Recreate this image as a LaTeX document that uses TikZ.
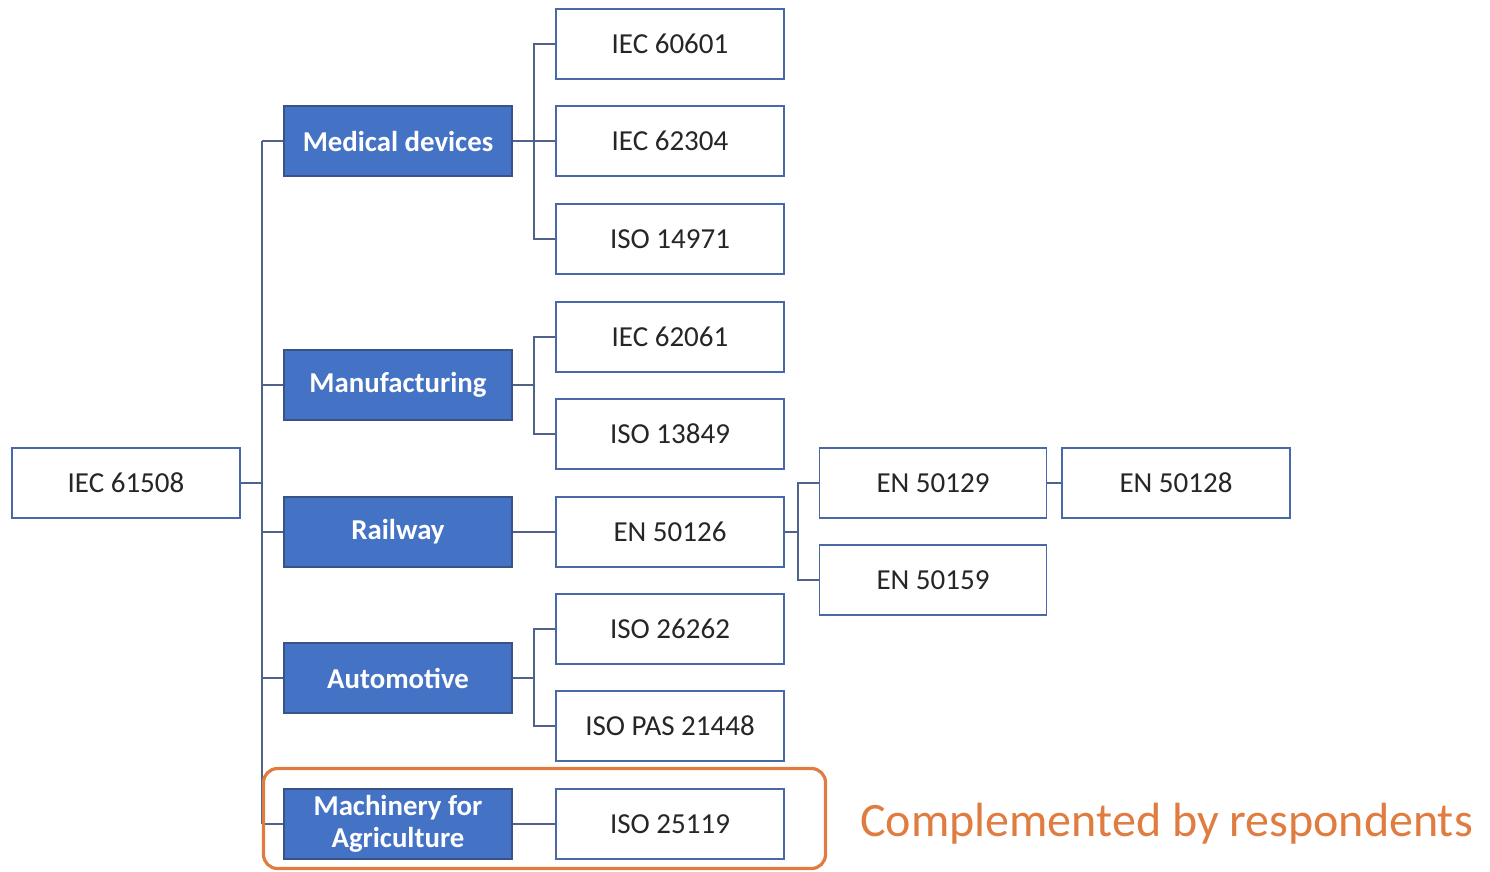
\documentclass[tikz,border=0pt]{standalone}
\usepackage{fontspec}
\setmainfont{Carlito}
\definecolor{boxblue}{RGB}{68,114,196}
\definecolor{edgeblue}{RGB}{72,104,168}
\definecolor{linkblue}{RGB}{78,98,140}
\definecolor{accent}{RGB}{224,124,64}
\begin{document}
\begin{tikzpicture}[x=1pt,y=-1pt,
  stdbox/.style={draw=edgeblue,line width=1.6pt,fill=white,minimum width=228pt,minimum height=70pt,inner sep=0pt,font=\fontsize{29}{31}\selectfont,text=black!85},
  catbox/.style={draw=edgeblue!80!black,line width=1.2pt,fill=boxblue,minimum width=228pt,minimum height=70pt,inner sep=0pt,font=\fontsize{28.8}{31}\selectfont\bfseries,text=white,align=center},
  link/.style={draw=linkblue,line width=1.6pt}]
\useasboundingbox (0,0) rectangle (1490,871);
% root and categories
\node[stdbox] (root) at (126,483) {IEC 61508};
\node[catbox] (med) at (398,141) {Medical devices};
\node[catbox] (man) at (398,385) {Manufacturing};
\node[catbox] (rail) at (398,532) {Railway};
\node[catbox] (auto) at (398,678) {Automotive};
\node[catbox,font=\fontsize{28.8}{32}\selectfont\bfseries] (agri) at (398,824) {Machinery for\\Agriculture};
% standards
\node[stdbox] (s60601) at (670,44) {IEC 60601};
\node[stdbox] (s62304) at (670,141) {IEC 62304};
\node[stdbox] (s14971) at (670,239) {ISO 14971};
\node[stdbox] (s62061) at (670,337) {IEC 62061};
\node[stdbox] (s13849) at (670,434) {ISO 13849};
\node[stdbox] (s50126) at (670,532) {EN 50126};
\node[stdbox] (s26262) at (670,629) {ISO 26262};
\node[stdbox] (s21448) at (670,726) {ISO PAS 21448};
\node[stdbox] (s25119) at (670,824) {ISO 25119};
\node[stdbox,minimum width=227pt] (s50129) at (933,483) {EN 50129};
\node[stdbox,minimum width=227pt] (s50159) at (933,580) {EN 50159};
\node[stdbox] (s50128) at (1176,483) {EN 50128};
% root to categories
\draw[link] (root.east) -- (262,483);
\draw[link] (262,141) -- (262,824);
\foreach \n in {med,man,rail,auto,agri} \draw[link] (262,0 |- \n.west) -- (\n.west);
% medical devices
\draw[link] (med.east) -- (534,141);
\draw[link] (s60601.west) -| (534,141) |- (s14971.west);
\draw[link] (534,141) -- (s62304.west);
% manufacturing
\draw[link] (man.east) -- (534,385);
\draw[link] (s62061.west) -| (534,385) |- (s13849.west);
% railway
\draw[link] (rail.east) -- (s50126.west);
\draw[link] (s50126.east) -- (798,532);
\draw[link] (s50129.west) -| (798,532) |- (s50159.west);
\draw[link] (s50129.east) -- (s50128.west);
% automotive
\draw[link] (auto.east) -- (534,678);
\draw[link] (s26262.west) -| (534,678) |- (s21448.west);
% agriculture
\draw[link] (agri.east) -- (s25119.west);
% highlight frame
\node[draw=accent,line width=3.2pt,rounded corners=14pt,minimum width=562pt,minimum height=100pt,inner sep=0pt] (frame) at (544.5,818.5) {};
\node[text=accent,font=\fontsize{48}{52}\selectfont,anchor=base west,inner sep=0pt] (note) at (860,836) {Complemented by respondents};
\end{tikzpicture}
\end{document}
